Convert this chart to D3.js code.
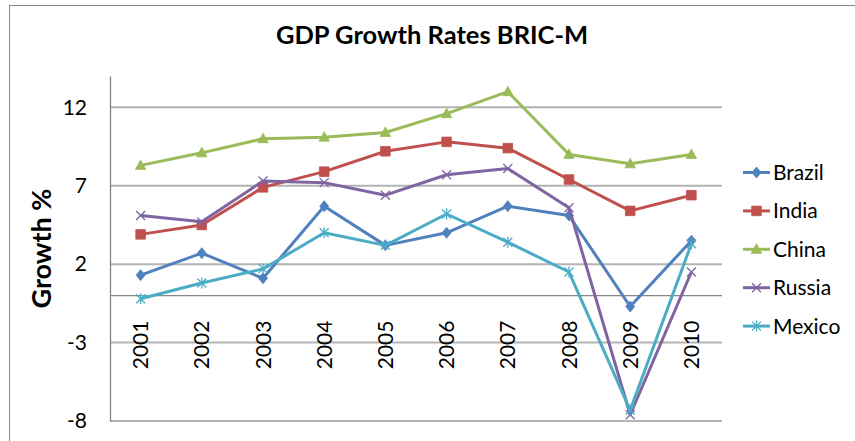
<!DOCTYPE html>
<html>
<head>
<meta charset="utf-8">
<script src="https://cdn.jsdelivr.net/npm/d3@7"></script>
<style>
  body { margin: 0; background: #fff; }
  svg text { font-family: Lato, "Open Sans", sans-serif; fill: #000; }
</style>
</head>
<body>
<div id="chart"></div>
<script>
const years = ["2001", "2002", "2003", "2004", "2005", "2006", "2007", "2008", "2009", "2010"];
const brazil = [1.3, 2.7, 1.1, 5.7, 3.2, 4.0, 5.7, 5.1, -0.7, 3.5];
const india = [3.9, 4.5, 6.9, 7.9, 9.2, 9.8, 9.4, 7.4, 5.4, 6.4];
const china = [8.3, 9.1, 10.0, 10.1, 10.4, 11.6, 13.0, 9.0, 8.4, 9.0];
const russia = [5.1, 4.7, 7.3, 7.2, 6.4, 7.7, 8.1, 5.6, -7.6, 1.5];
const mexico = [-0.2, 0.8, 1.7, 4.0, 3.2, 5.2, 3.4, 1.5, -7.3, 3.3];
const yTicks = [-8, -3, 2, 7, 12];

const width = 855, height = 441;
const plot = { left: 110, right: 722, top: 76, bottom: 421 };

const series = [
  { name: "Brazil", values: brazil, color: "#4F81BD", marker: "diamond" },
  { name: "India", values: india, color: "#C0504D", marker: "square" },
  { name: "China", values: china, color: "#9BBB59", marker: "triangle" },
  { name: "Russia", values: russia, color: "#8064A2", marker: "x" },
  { name: "Mexico", values: mexico, color: "#4BACC6", marker: "star" }
];

const svg = d3.select("#chart").append("svg")
  .attr("width", width)
  .attr("height", height);

// chart border
svg.append("rect")
  .attr("x", 9.5).attr("y", 5.5)
  .attr("width", 860).attr("height", 450)
  .attr("fill", "#fff")
  .attr("stroke", "#868686");

const x = d3.scaleBand().domain(years).range([plot.left, plot.right]);
const y = d3.scaleLinear().domain([-8, 14]).range([plot.bottom, plot.top]);
const cx = d => x(d) + x.bandwidth() / 2;

// gridlines
svg.append("g").selectAll("line")
  .data(yTicks)
  .join("line")
  .attr("x1", plot.left).attr("x2", plot.right)
  .attr("y1", d => y(d)).attr("y2", d => y(d))
  .attr("stroke", "#b3b3b3")
  .attr("stroke-width", 2);

// y axis
const yAxis = svg.append("g")
  .attr("transform", `translate(${plot.left},0)`)
  .call(d3.axisLeft(y).tickValues(yTicks).tickSize(0).tickPadding(23)
    .tickFormat(d => String(d)));
yAxis.select(".domain").attr("stroke", "#868686").attr("stroke-width", 1.3);
yAxis.selectAll("text")
  .style("font-size", "21px")
  .style("font-family", "Lato, sans-serif");

// x axis at zero
svg.append("line")
  .attr("x1", plot.left).attr("x2", plot.right)
  .attr("y1", y(0)).attr("y2", y(0))
  .attr("stroke", "#868686")
  .attr("stroke-width", 1.3);

svg.append("g").selectAll("text")
  .data(years)
  .join("text")
  .attr("transform", d => `translate(${cx(d)},${y(0) + 25}) rotate(-90)`)
  .attr("text-anchor", "end")
  .attr("dy", "0.36em")
  .style("font-size", "21px")
  .text(d => d);

// title + axis title
svg.append("text")
  .attr("x", 432).attr("y", 44)
  .attr("text-anchor", "middle")
  .style("font-size", "25.5px")
  .style("font-weight", "bold")
  .text("GDP Growth Rates BRIC-M");

svg.append("text")
  .attr("transform", `translate(51,${(plot.top + plot.bottom) / 2}) rotate(-90)`)
  .attr("text-anchor", "middle")
  .style("font-size", "27px")
  .style("font-weight", "bold")
  .text("Growth %");

// marker shapes
function markerPath(type) {
  if (type === "diamond") return "M0,-5.5L4.5,0L0,5.5L-4.5,0Z";
  if (type === "square") return "M-4.8,-4.8H4.8V4.8H-4.8Z";
  if (type === "triangle") return "M0,-5.5L5.2,4L-5.2,4Z";
  if (type === "x") return "M-4.5,-4.5L4.5,4.5M-4.5,4.5L4.5,-4.5";
  return "M-4.5,-4.5L4.5,4.5M-4.5,4.5L4.5,-4.5M0,-5.5V5.5";
}
function drawMarker(sel, s) {
  const open = s.marker === "x" || s.marker === "star";
  sel.attr("d", markerPath(s.marker))
    .attr("fill", open ? "none" : s.color)
    .attr("stroke", s.color)
    .attr("stroke-width", open ? 1.3 : 0.8);
}

const line = d3.line()
  .x((d, i) => cx(years[i]))
  .y(d => y(d));

series.forEach(s => {
  const g = svg.append("g");
  g.append("path")
    .attr("d", line(s.values))
    .attr("fill", "none")
    .attr("stroke", s.color)
    .attr("stroke-width", 3)
    .attr("stroke-linejoin", "round");
  g.selectAll("path.m")
    .data(s.values)
    .join("path")
    .attr("class", "m")
    .attr("transform", (d, i) => `translate(${cx(years[i])},${y(d)})`)
    .call(drawMarker, s);
});

// legend
const legend = svg.append("g")
  .selectAll("g")
  .data(series)
  .join("g")
  .attr("transform", (d, i) => `translate(743,${172.5 + i * 38.4})`);
legend.append("line")
  .attr("x1", 0).attr("x2", 27)
  .attr("stroke", d => d.color)
  .attr("stroke-width", 3);
legend.append("path")
  .attr("transform", "translate(13.5,0)")
  .each(function(d) { d3.select(this).call(drawMarker, d); });
legend.append("text")
  .attr("x", 30)
  .attr("dy", "0.36em")
  .style("font-size", "21px")
  .text(d => d.name);
</script>
</body>
</html>
